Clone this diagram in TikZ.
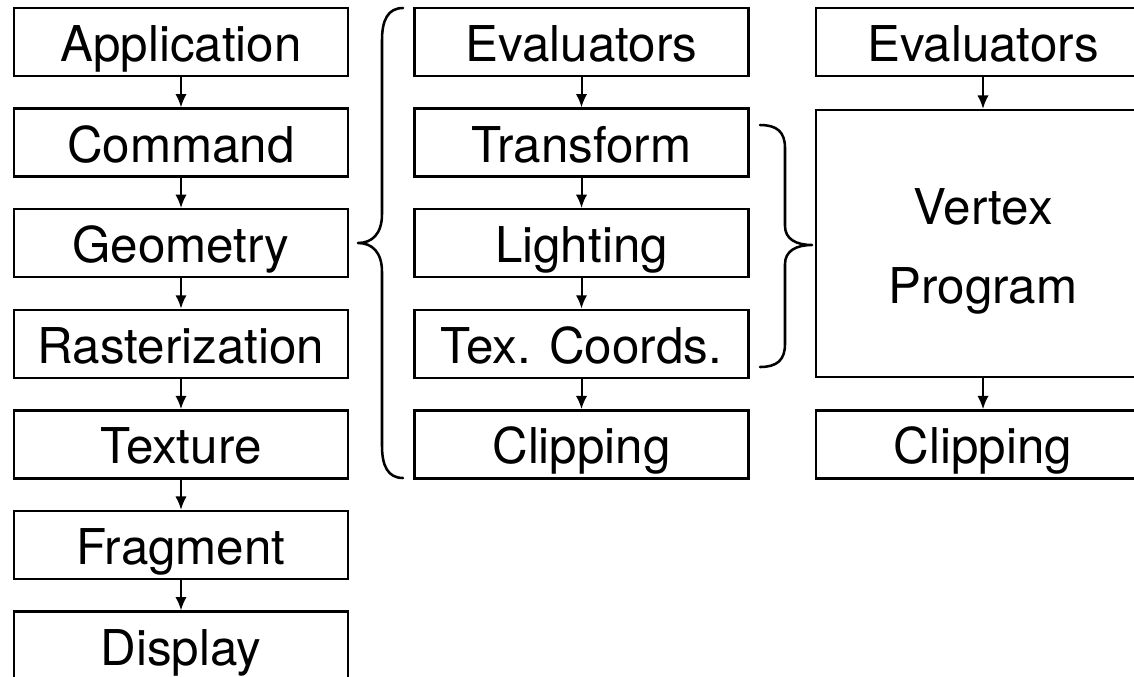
\documentclass[tikz,border=0pt]{standalone}
\usepackage{fontspec}
\setmainfont{TeX Gyre Heros}
\usetikzlibrary{arrows.meta}
\tikzset{
  stage/.style={draw, line width=1.8pt, minimum width=250.5pt, minimum height=51pt,
    inner sep=0pt, font=\fontsize{37}{44}\selectfont, text height=29.25pt, text depth=0pt},
  tall/.style={stage, minimum height=200.25pt},
  caption/.style={font=\fontsize{37}{44}\selectfont, inner sep=0pt, anchor=base},
  flow/.style={line width=1.5pt, -{Latex[length=10pt, width=8.5pt]}},
  curly/.style={line width=1.9pt, line cap=round, line join=round}
}
\begin{document}
\begin{tikzpicture}[x=0.75pt, y=-0.75pt]
\useasboundingbox (0,0) rectangle (1134,676);
\clip (0,0) rectangle (1134,676);
\fill[white] (0,0) rectangle (1134,676);

% fixed-function pipeline
\node[stage] (app)  at (181,42)    {Application};
\node[stage] (cmd)  at (181,142.6) {Command};
\node[stage] (geo)  at (181,243.2) {Geometry};
\node[stage] (ras)  at (181,343.8) {Rasterization};
\node[stage] (tex)  at (181,444.4) {Texture};
\node[stage] (frag) at (181,545)   {Fragment};
\node[stage] (disp) at (181,645.6) {Display};

% geometry stage expanded
\node[stage] (evalA) at (581.5,42)    {Evaluators};
\node[stage] (xfm)   at (581.5,142.6) {Transform};
\node[stage] (light) at (581.5,243.2) {Lighting};
\node[stage] (tc)    at (581.5,343.8) {Tex. Coords.};
\node[stage] (clipA) at (581.5,444.4) {Clipping};

% programmable vertex stage
\node[stage] (evalB) at (983,42)    {Evaluators};
\node[tall]  (vprog) at (983,243.5) {};
\node[caption] (vprogA) at (983,224) {Vertex};
\node[caption] (vprogB) at (983,303) {Program};
\node[stage] (clipB) at (983,444.4) {Clipping};

% arrows
\draw[flow] (app) -- (cmd);
\draw[flow] (cmd) -- (geo);
\draw[flow] (geo) -- (ras);
\draw[flow] (ras) -- (tex);
\draw[flow] (tex) -- (frag);
\draw[flow] (frag) -- (disp);
\draw[flow] (evalA) -- (xfm);
\draw[flow] (xfm) -- (light);
\draw[flow] (light) -- (tc);
\draw[flow] (tc) -- (clipA);
\draw[flow] (evalB) -- (vprog);
\draw[flow] (vprog) -- (clipB);

% brace grouping the geometry sub-stages
\draw[curly] (403,8) .. controls (388,8) and (382,20) .. (382,40)
  -- (382,214) .. controls (382,234) and (372,243) .. (358,243)
  .. controls (372,243) and (382,252) .. (382,272)
  -- (382,446) .. controls (382,466) and (388,478) .. (403,478);

% brace grouping transform, lighting and texture coordinates
\draw[curly] (760,125) .. controls (777,125) and (785,132) .. (785,148)
  -- (785,226) .. controls (785,239) and (796,245) .. (812,245)
  .. controls (796,245) and (785,251) .. (785,264)
  -- (785,344) .. controls (785,360) and (777,367) .. (760,367);
\end{tikzpicture}
\end{document}
